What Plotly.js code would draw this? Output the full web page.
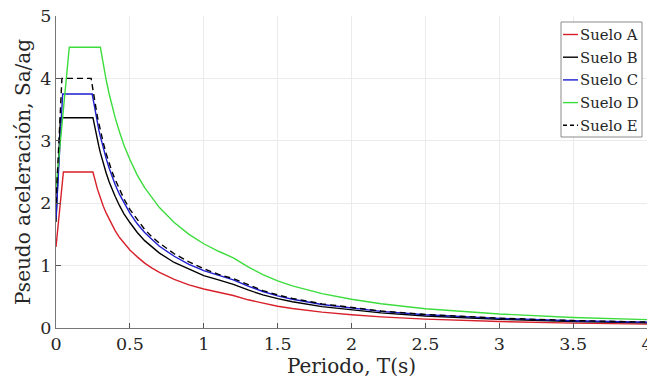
<!DOCTYPE html>
<html>
<head>
<meta charset="utf-8">
<script src="https://cdn.plot.ly/plotly-3.0.1.min.js"></script>
<style>html,body{margin:0;padding:0;background:#fff;}#chart{width:647px;height:387px;}</style>
</head>
<body>
<div id="chart"></div>
<script>
// Periods (s) and pseudo-accelerations (Sa/ag)
const seriesNames = ["Suelo A", "Suelo B", "Suelo C", "Suelo D", "Suelo E"];

const periodoA = [0, 0.05, 0.25, 0.26, 0.27, 0.28, 0.29, 0.30, 0.32, 0.34, 0.36, 0.38, 0.40, 0.43, 0.46, 0.5, 0.55, 0.6, 0.65, 0.7, 0.8, 0.9, 1.0, 1.1, 1.2, 1.3, 1.4, 1.5, 1.6, 1.8, 2.0, 2.2, 2.5, 2.8, 3.0, 3.5, 4.0];
const saA = [1.30, 2.50, 2.50, 2.40, 2.31, 2.23, 2.16, 2.08, 1.95, 1.84, 1.74, 1.64, 1.56, 1.45, 1.36, 1.25, 1.14, 1.04, 0.96, 0.89, 0.78, 0.69, 0.625, 0.57, 0.52, 0.452, 0.395, 0.348, 0.312, 0.255, 0.213, 0.179, 0.143, 0.117, 0.104, 0.078, 0.062];

const periodoB = [0, 0.03, 0.25, 0.26, 0.27, 0.28, 0.29, 0.30, 0.32, 0.34, 0.36, 0.38, 0.40, 0.43, 0.46, 0.5, 0.55, 0.6, 0.65, 0.7, 0.8, 0.9, 1.0, 1.1, 1.2, 1.3, 1.4, 1.5, 1.6, 1.8, 2.0, 2.2, 2.5, 2.8, 3.0, 3.5, 4.0];
const saB = [1.70, 3.37, 3.37, 3.24, 3.12, 3.01, 2.91, 2.81, 2.63, 2.48, 2.34, 2.22, 2.11, 1.96, 1.83, 1.69, 1.53, 1.40, 1.30, 1.20, 1.05, 0.94, 0.84, 0.77, 0.70, 0.61, 0.53, 0.47, 0.42, 0.343, 0.287, 0.242, 0.193, 0.158, 0.140, 0.105, 0.084];

const periodoC = [0, 0.045, 0.245, 0.26, 0.27, 0.28, 0.29, 0.30, 0.32, 0.34, 0.36, 0.38, 0.40, 0.43, 0.46, 0.5, 0.55, 0.6, 0.65, 0.7, 0.8, 0.9, 1.0, 1.1, 1.2, 1.3, 1.4, 1.5, 1.6, 1.8, 2.0, 2.2, 2.5, 2.8, 3.0, 3.5, 4.0];
const saC = [1.75, 3.75, 3.75, 3.54, 3.41, 3.29, 3.17, 3.07, 2.88, 2.71, 2.56, 2.42, 2.30, 2.14, 2.00, 1.84, 1.67, 1.53, 1.42, 1.31, 1.15, 1.02, 0.92, 0.84, 0.77, 0.67, 0.585, 0.515, 0.46, 0.377, 0.316, 0.266, 0.212, 0.173, 0.154, 0.116, 0.092];

const periodoD = [0, 0.09, 0.30, 0.31, 0.32, 0.34, 0.36, 0.38, 0.40, 0.43, 0.46, 0.5, 0.55, 0.6, 0.65, 0.7, 0.8, 0.9, 1.0, 1.1, 1.2, 1.3, 1.4, 1.5, 1.6, 1.8, 2.0, 2.2, 2.5, 2.8, 3.0, 3.5, 4.0];
const saD = [2.25, 4.50, 4.50, 4.35, 4.22, 3.97, 3.75, 3.55, 3.375, 3.14, 2.93, 2.70, 2.45, 2.25, 2.08, 1.93, 1.69, 1.50, 1.35, 1.23, 1.125, 0.98, 0.855, 0.754, 0.675, 0.551, 0.461, 0.388, 0.309, 0.253, 0.225, 0.169, 0.135];

const periodoE = [0, 0.04, 0.2375, 0.25, 0.26, 0.27, 0.28, 0.29, 0.30, 0.32, 0.34, 0.36, 0.38, 0.40, 0.43, 0.46, 0.5, 0.55, 0.6, 0.65, 0.7, 0.8, 0.9, 1.0, 1.1, 1.2, 1.3, 1.4, 1.5, 1.6, 1.8, 2.0, 2.2, 2.5, 2.8, 3.0, 3.5, 4.0];
const saE = [2.00, 4.00, 4.00, 3.80, 3.65, 3.52, 3.39, 3.28, 3.17, 2.97, 2.79, 2.64, 2.50, 2.38, 2.21, 2.07, 1.90, 1.73, 1.58, 1.46, 1.36, 1.19, 1.06, 0.95, 0.86, 0.79, 0.69, 0.60, 0.53, 0.474, 0.387, 0.324, 0.273, 0.217, 0.178, 0.158, 0.119, 0.095];

const xTickVals = [0, 0.5, 1, 1.5, 2, 2.5, 3, 3.5, 4];
const xTickText = ["0", "0.5", "1", "1.5", "2", "2.5", "3", "3.5", "4"];
const yTickVals = [0, 1, 2, 3, 4, 5];

const periods = [periodoA, periodoB, periodoC, periodoD, periodoE];
const values = [saA, saB, saC, saD, saE];
const colors = ["#d8202a", "#000000", "#1c1cd0", "#3cdc3c", "#000000"];
const dashes = ["solid", "solid", "solid", "solid", "6px,4px"];
const legendDashes = ["solid", "solid", "solid", "solid", "4px,3px"];

const traces = seriesNames.map((name, i) => ({
  type: "scatter",
  mode: "lines",
  name: name,
  x: periods[i],
  y: values[i],
  line: {color: colors[i], width: 1.4, dash: dashes[i]},
  showlegend: false
}));

const FONT = "DejaVu Serif, serif";
const W = 647, H = 387;
const M = {l: 56, r: 0, t: 16, b: 59};
const PW = W - M.l - M.r, PH = H - M.t - M.b;
const px = v => (v - M.l) / PW;      // pixel -> paper x
const py = v => (H - M.b - v) / PH;  // pixel -> paper y

// legend box (pixel geometry)
const LG = {x0: 561, x1: 642, y0: 22, y1: 137, lineX0: 563, lineX1: 578, textX: 578.5, rowY0: 34.5, rowDY: 22.7};

const shapes = [{
  type: "rect", xref: "paper", yref: "paper",
  x0: px(LG.x0), x1: px(LG.x1), y0: py(LG.y1), y1: py(LG.y0),
  line: {color: "#8a8a8a", width: 1}, fillcolor: "#ffffff", layer: "above"
}];
const annotations = [];
seriesNames.forEach((name, i) => {
  const yy = LG.rowY0 + i * LG.rowDY;
  shapes.push({
    type: "line", xref: "paper", yref: "paper",
    x0: px(LG.lineX0), x1: px(LG.lineX1), y0: py(yy), y1: py(yy),
    line: {color: colors[i], width: 1.4, dash: legendDashes[i]}, layer: "above"
  });
  annotations.push({
    xref: "paper", yref: "paper", x: px(LG.textX), y: py(yy),
    xanchor: "left", yanchor: "middle", showarrow: false, text: name,
    borderpad: 0,
    font: {family: FONT, size: 14.8, color: "#262626"}
  });
});

const layout = {
  width: W,
  height: H,
  margin: {l: M.l, r: M.r, t: M.t, b: M.b, pad: 0},
  paper_bgcolor: "#ffffff",
  plot_bgcolor: "#ffffff",
  font: {family: FONT, color: "#262626", size: 17},
  showlegend: false,
  shapes: shapes,
  annotations: annotations,
  xaxis: {
    range: [0, 4],
    tickvals: xTickVals,
    ticktext: xTickText,
    ticks: "inside",
    ticklen: 5,
    tickcolor: "#555555",
    showline: true,
    linecolor: "#777777",
    linewidth: 1,
    showgrid: true,
    gridcolor: "#ebebeb",
    gridwidth: 1,
    zeroline: false,
    ticklabeloverflow: "allow",
    tickfont: {family: FONT, size: 17.5, color: "#262626"},
    title: {text: "Periodo, T(s)", font: {family: FONT, size: 20, color: "#262626"}, standoff: 5},
    automargin: false
  },
  yaxis: {
    range: [0, 5],
    tickvals: yTickVals,
    ticks: "inside",
    ticklen: 5,
    tickcolor: "#555555",
    showline: true,
    linecolor: "#777777",
    linewidth: 1,
    showgrid: true,
    gridcolor: "#ebebeb",
    gridwidth: 1,
    zeroline: false,
    tickfont: {family: FONT, size: 17.5, color: "#262626"},
    title: {text: "Pseudo aceleración, Sa/ag", font: {family: FONT, size: 20, color: "#262626"}, standoff: 4},
    automargin: false
  }
};

Plotly.newPlot("chart", traces, layout, {displayModeBar: false, staticPlot: true});
</script>
</body>
</html>
